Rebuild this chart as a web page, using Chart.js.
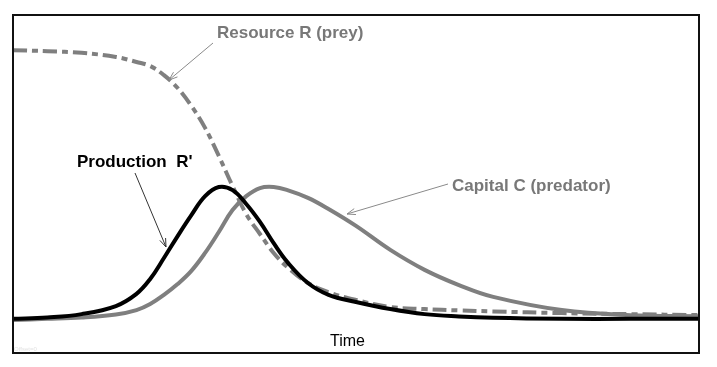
<!DOCTYPE html>
<html>
<head>
<meta charset="utf-8">
<script src="https://cdn.jsdelivr.net/npm/chart.js@4"></script>
<style>
    html, body { margin: 0; padding: 0; background: #fff; }
    #wrap { width: 717px; height: 367px; }
</style>
</head>
<body>
<div id="wrap"><canvas id="c"></canvas></div>
<script>
// time axis (arbitrary units 0..100)
const time = [0, 5, 10, 15, 18, 20, 22, 24, 26, 28, 30, 32, 34, 36, 38, 40, 43, 46, 50, 55, 60, 65, 70, 80, 90, 100];
const resource = [89.6, 89.3, 88.8, 87.6, 86.1, 84.9, 82.2, 78.4, 73.1, 66.6, 58.3, 49.4, 41.1, 35.2, 29.6, 25.4, 20.7, 18.0, 15.7, 13.6, 13.0, 12.6, 12.3, 11.8, 11.5, 11.2];
const production = [10.1, 10.5, 11.5, 13.9, 17.5, 21.9, 28.1, 34.6, 40.8, 46.4, 49.1, 48.2, 44.1, 38.8, 32.5, 26.9, 20.7, 17.2, 15.1, 13.0, 11.5, 10.8, 10.4, 10.1, 10.1, 10.1];
const capital = [9.8, 10.1, 10.5, 11.4, 12.7, 14.5, 17.2, 20.4, 24.3, 29.6, 35.8, 42.3, 46.4, 48.8, 49.1, 48.2, 45.9, 42.6, 37.6, 30.5, 24.6, 20.1, 16.6, 12.7, 11.2, 10.9];

const seriesNames = ['Resource R (prey)', 'Production  R\'', 'Capital C (predator)'];
const xTitle = 'Time';

const GRAY = '#7f7f7f';

function pts(ys) {
    return time.map((t, i) => ({ x: t, y: ys[i] }));
}

function arrow(ctx, x1, y1, x2, y2, color) {
    ctx.save();
    ctx.strokeStyle = color;
    ctx.lineWidth = 1;
    ctx.beginPath();
    ctx.moveTo(x1, y1);
    ctx.lineTo(x2, y2);
    ctx.stroke();
    const a = Math.atan2(y2 - y1, x2 - x1);
    const L = 9;
    ctx.beginPath();
    ctx.moveTo(x2 - L * Math.cos(a - 0.35), y2 - L * Math.sin(a - 0.35));
    ctx.lineTo(x2, y2);
    ctx.lineTo(x2 - L * Math.cos(a + 0.35), y2 - L * Math.sin(a + 0.35));
    ctx.stroke();
    ctx.restore();
}

const annotations = {
    id: 'annotations',
    afterDatasetsDraw(chart) {
        const ctx = chart.ctx;
        const a = chart.chartArea;
        ctx.save();
        // frame
        ctx.strokeStyle = '#111';
        ctx.lineWidth = 2;
        ctx.strokeRect(a.left, a.top, a.right - a.left, a.bottom - a.top);

        ctx.textBaseline = 'middle';
        ctx.textAlign = 'left';
        ctx.font = 'bold 17px "Liberation Sans", Arial, sans-serif';
        ctx.fillStyle = '#787878';
        ctx.fillText(seriesNames[0], 217, 33);
        ctx.fillText(seriesNames[2], 452, 186);
        ctx.fillStyle = '#000';
        ctx.fillText(seriesNames[1], 77, 162);

        ctx.font = '16px "Liberation Sans", Arial, sans-serif';
        ctx.fillStyle = '#000';
        ctx.fillText(xTitle, 330, 342);

        ctx.font = '6px "Liberation Sans", Arial, sans-serif';
        ctx.fillStyle = '#e2e2e2';
        ctx.fillText('Offset=0', 14, 349);

        arrow(ctx, 213, 43, 169, 80, '#8a8a8a');
        arrow(ctx, 135, 173, 166, 247, '#333');
        arrow(ctx, 448, 184, 347, 214, '#8a8a8a');
        ctx.restore();
    }
};

new Chart(document.getElementById('c'), {
    type: 'line',
    data: {
        datasets: [
            {
                label: seriesNames[0],
                data: pts(resource),
                borderColor: GRAY,
                borderWidth: 4,
                borderDash: [14, 5, 6, 5],
                pointRadius: 0,
                tension: 0.4,
                order: 3
            },
            {
                label: seriesNames[2],
                data: pts(capital),
                borderColor: GRAY,
                borderWidth: 4,
                pointRadius: 0,
                tension: 0.4,
                order: 2
            },
            {
                label: seriesNames[1],
                data: pts(production),
                borderColor: '#000',
                borderWidth: 4,
                pointRadius: 0,
                tension: 0.4,
                order: 1
            }
        ]
    },
    options: {
        responsive: true,
        maintainAspectRatio: false,
        animation: false,
        layout: { padding: { left: 13, right: 18, top: 15, bottom: 14 } },
        scales: {
            x: { type: 'linear', min: 0, max: 100, display: false },
            y: { min: 0, max: 100, display: false }
        },
        plugins: {
            legend: { display: false },
            tooltip: { enabled: false }
        }
    },
    plugins: [annotations]
});
</script>
</body>
</html>
